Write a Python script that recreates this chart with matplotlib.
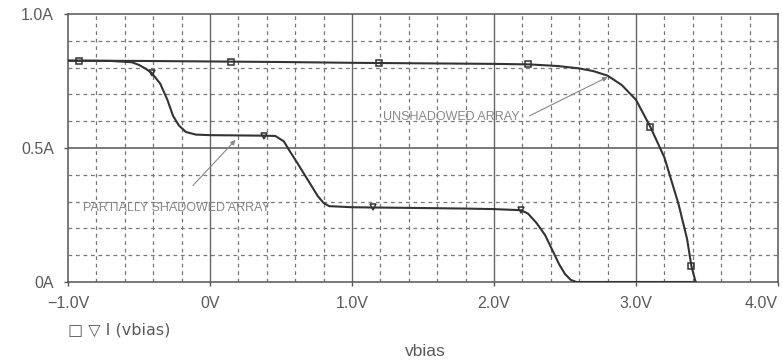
import numpy as np
import matplotlib
matplotlib.use('Agg')
from matplotlib import pyplot as plt

plt.rcParams['font.family'] = ['Liberation Sans', 'DejaVu Sans']

# unshadowed array, I(vbias) in A vs vbias in V
v_unshaded = [-1.0, -0.5, 0.0, 0.5, 1.0, 1.5, 2.0, 2.25, 2.45, 2.6, 2.7, 2.8, 2.9,
              3.0, 3.1, 3.2, 3.3, 3.36, 3.39, 3.42]
i_unshaded = [0.826, 0.825, 0.823, 0.821, 0.818, 0.816, 0.814, 0.812, 0.806, 0.797,
              0.787, 0.77, 0.735, 0.68, 0.58, 0.465, 0.29, 0.16, 0.06, 0.0]
v_unshaded_mk = [-0.92, 0.145, 1.19, 2.24, 3.1, 3.39]
i_unshaded_mk = [0.826, 0.822, 0.816, 0.812, 0.58, 0.06]

# partially shadowed array
v_partial = [-1.0, -0.7, -0.55, -0.5, -0.45, -0.41, -0.35, -0.30, -0.26, -0.22, -0.17,
             -0.1, 0.0, 0.2, 0.38, 0.46, 0.52, 0.56, 0.62, 0.69, 0.76, 0.8, 0.84, 1.0,
             1.15, 1.5, 1.8, 2.0, 2.19, 2.24, 2.3, 2.36, 2.41, 2.46, 2.5, 2.54, 2.58, 3.42]
i_partial = [0.826, 0.825, 0.82, 0.81, 0.795, 0.78, 0.74, 0.68, 0.62, 0.585, 0.56,
             0.55, 0.548, 0.547, 0.546, 0.545, 0.525, 0.49, 0.44, 0.38, 0.32, 0.295, 0.283, 0.279,
             0.278, 0.276, 0.274, 0.272, 0.268, 0.255, 0.22, 0.175, 0.12, 0.065, 0.03, 0.008, 0.0, 0.0]
v_partial_mk = [-0.41, 0.38, 1.15, 2.19]
i_partial_mk = [0.78, 0.546, 0.278, 0.268]

x_ticks = [-1.0, 0.0, 1.0, 2.0, 3.0, 4.0]
x_labels = ['\u22121.0V', '0V', '1.0V', '2.0V', '3.0V', '4.0V']
y_ticks = [0.0, 0.5, 1.0]
y_labels = ['0A', '0.5A', '1.0A']

txt_col = '#5a5a5a'
line_col = '#333333'
note_col = '#888888'

fig = plt.figure(figsize=(7.83, 3.6), dpi=100)
ax = fig.add_axes([0.0868, 0.2167, 0.9068, 0.7443])

# minor dashed grid
for xv in np.arange(-0.8, 4.0, 0.2):
    if abs(xv - round(xv)) > 0.01:
        ax.axvline(xv, color='#777777', lw=0.9, ls=(0, (3, 3)), zorder=1)
for yv in np.arange(0.1, 1.0, 0.1):
    if abs(yv - 0.5) > 0.01:
        ax.axhline(yv, color='#777777', lw=0.9, ls=(0, (3, 3)), zorder=1)
# major solid grid
for xv in [0.0, 1.0, 2.0, 3.0]:
    ax.axvline(xv, color='#666666', lw=1.0, zorder=1)
ax.axhline(0.5, color='#555555', lw=1.1, zorder=1)

ax.plot(v_unshaded, i_unshaded, color=line_col, lw=1.5, zorder=3)
ax.plot(v_partial, i_partial, color=line_col, lw=1.5, zorder=3)
ax.plot(v_unshaded_mk, i_unshaded_mk, ls='none', marker='s', ms=4.5, mfc='none',
        mec=line_col, mew=1.1, zorder=4)
ax.plot(v_partial_mk, i_partial_mk, ls='none', marker='v', ms=5, mfc='none',
        mec=line_col, mew=1.1, zorder=4)

arrow = dict(arrowstyle='-|>', color=note_col, lw=0.8, mutation_scale=7,
             shrinkA=0, shrinkB=0)
ax.text(1.22, 0.616, 'UNSHADOWED ARRAY', fontsize=9, color=note_col,
        va='center', ha='left')
ax.annotate('', xy=(2.8, 0.765), xytext=(2.25, 0.62), arrowprops=arrow)
ax.text(-0.895, 0.276, 'PARTIALLY SHADOWED ARRAY', fontsize=9, color=note_col,
        va='center', ha='left')
ax.annotate('', xy=(0.18, 0.53), xytext=(-0.12, 0.36), arrowprops=arrow)

ax.set_xlim(-1.0, 4.0)
ax.set_ylim(0.0, 1.0)
ax.set_xticks(x_ticks)
ax.set_xticklabels(x_labels)
ax.set_yticks(y_ticks)
ax.set_yticklabels(y_labels)
ax.tick_params(axis='both', colors='#555555', labelcolor=txt_col, labelsize=11.5,
               length=3, width=1)
ax.tick_params(axis='x', pad=7)
ax.tick_params(axis='y', pad=7)
ax.get_xticklabels()[-1].set_horizontalalignment('right')
ax.get_xticklabels()[-1].set_x(4.02)
for sp in ax.spines.values():
    sp.set_color('#555555')
    sp.set_linewidth(1.1)

fig.text(68 / 783, 1 - 330 / 360, '\u25a1 \u25bd I (vbias)', fontsize=11.5, color=txt_col,
         va='center', ha='left', family=['DejaVu Sans'])
fig.text(425 / 783, 1 - 351 / 360, 'vbias', fontsize=12.5, color=txt_col, va='center', ha='center')

plt.savefig('out.png', dpi=100)
